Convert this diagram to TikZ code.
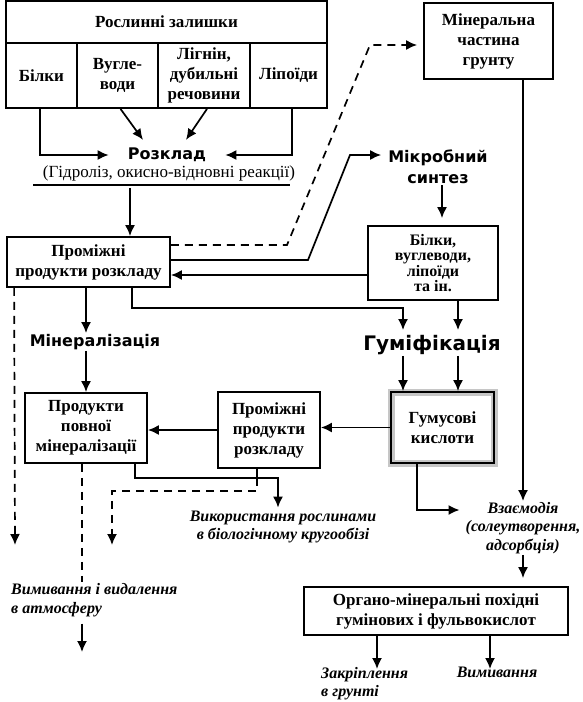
\documentclass[tikz,border=0pt]{standalone}
\usepackage{fontspec}
\setmainfont{Liberation Serif}
\newfontfamily\headfont{DejaVu Sans}
\usetikzlibrary{arrows.meta}
\tikzset{
	box/.style 2 args={draw,line width=1.8pt,minimum width=#1,minimum height=#2,align=center,inner sep=1pt,font=\fontsize{17}{20}\selectfont\bfseries},
	hbox/.style 2 args={box={#1}{#2},preaction={draw=gray!45,line width=7pt}},
	head/.style={align=center,inner sep=1pt,font=\headfont\bfseries\fontsize{16}{21}\selectfont},
	note/.style={align=center,inner sep=1pt,font=\bfseries\itshape\fontsize{16}{18.5}\selectfont},
	arr/.style={line width=1.7pt,-{Latex[length=11pt,width=10pt]}},
	ln/.style={line width=1.7pt},
	darr/.style={arr,dash pattern=on 8pt off 6pt}
}
\begin{document}
\begin{tikzpicture}[x=1pt,y=-1pt]
	\useasboundingbox (0,0) rectangle (583,702);
	% plant residues
	\node [box={321pt}{42pt}] (rest) at (166.5, 22) {Рослинні залишки};
	\node [box={71pt}{65pt}] (bilky) at (41.5, 75.5) {Білки};
	\node [box={81pt}{65pt}] (vugle) at (117.5, 75.5) {Вугле-\\води};
	\node [box={92pt}{65pt}] (lignin) at (204, 75.5) {Лігнін,\\дубильні\\речовини};
	\node [box={77pt}{65pt}] (lipo) at (288.5, 75.5) {Ліпоїди};
	\node [box={129pt}{76pt}] (mineral) at (488.5, 41) {Мінеральна\\частина\\грунту};

	\node [head] (rozklad) at (167, 155) {Розклад};
	\node [inner sep=1pt,font=\fontsize{17}{20}\selectfont] (hidro) at (169, 173) {(Гідроліз, окисно-відновні реакції)};
	\draw [ln] (33, 185) -- (290, 185);

	\node [box={163pt}{50pt}] (prom1) at (88.5, 262) {Проміжні\\продукти розкладу};
	\node [head] (mikro) at (438, 167) {Мікробний\\синтез};
	\node [box={130pt}{74pt},font=\fontsize{16}{15.5}\selectfont\bfseries] (bilky2) at (433, 263) {Білки,\\вуглеводи,\\ліпоїди\\та ін.};

	\node [head] (miner) at (95, 342) {Мінералізація};
	\node [head,font=\headfont\bfseries\fontsize{20}{24}\selectfont] (humif) at (432, 345) {Гуміфікація};

	\node [box={122pt}{70pt}] (povna) at (86, 428) {Продукти\\повної\\мінералізації};
	\node [box={102pt}{76pt}] (prom2) at (269, 430) {Проміжні\\продукти\\розкладу};
	\node [hbox={103pt}{71pt}] (humus) at (442.5, 427.5) {Гумусові\\кислоти};

	\node [note] (vykor) at (283, 527) {Використання рослинами\\в біологічному кругообізі};
	\node [note,align=left,anchor=west] (vymyv1) at (10, 600) {Вимивання і видалення\\в атмосферу};
	\node [note] (vzaem) at (523, 528) {Взаємодія\\(солеутворення,\\адсорбція)};
	\node [box={264pt}{48pt}] (organo) at (436, 611) {Органо-мінеральні похідні\\гумінових і фульвокислот};
	\node [note,align=left,anchor=north west] (zakrip) at (320, 666) {Закріплення\\в грунті};
	\node [note,anchor=north] (vymyv2) at (497, 666) {Вимивання};

	\coordinate (leak1) at (15, 545);
	\coordinate (leak2) at (112, 545);
	\coordinate (leak3) at (82, 652);

	% decomposition
	\draw [arr] ([xshift=-1.5pt]bilky.south) |- ([xshift=-18pt]rozklad.west);
	\draw [arr] ([xshift=3pt]vugle.south) -- ([xshift=-24pt,yshift=7pt]rozklad.north);
	\draw [arr] ([xshift=3pt]lignin.south) -- ([xshift=19pt,yshift=7pt]rozklad.north);
	\draw [arr] ([xshift=3.5pt]lipo.south) |- ([xshift=18pt]rozklad.east);
	\draw [arr] ([xshift=41.5pt]prom1.north |- hidro.south) ++(0,6) -- ([xshift=41.5pt]prom1.north);

	% to mineral part and microbial synthesis
	\draw [darr] ([yshift=17pt]prom1.east) -- (287, 245) -- (370, 45) -- ([yshift=-4pt,xshift=-6pt]mineral.west);
	\draw [arr] ([yshift=2pt]prom1.east) -- (308, 260) -- (350, 155) -- ([yshift=12pt,xshift=-6pt]mikro.west);
	\draw [arr] ([xshift=4pt]mikro.south) -- ([xshift=9pt,yshift=7pt]bilky2.north);
	\draw [arr] ([yshift=-12pt]bilky2.west) -- ([yshift=-13pt]prom1.east);

	% humification
	\draw [arr] ([xshift=43.5pt]prom1.south) -- ++(0, 20) -| ([xshift=-29pt,yshift=4pt]humif.north);
	\draw [arr] ([xshift=25pt]bilky2.south) -- ([xshift=26pt,yshift=4pt]humif.north);
	\draw [arr] ([xshift=-39.5pt]humus.north |- humif.south) -- ([xshift=-39.5pt]humus.north);
	\draw [arr] ([xshift=15.5pt]humus.north |- humif.south) -- ([xshift=15.5pt]humus.north);
	\draw [arr] (humus.west) -- (humus.west -| prom2.east);
	\draw [arr] (prom2.west) -- (prom2.west -| povna.east);

	% mineralization
	\draw [arr] (prom1.south -| povna.north) -- (miner.north -| povna.north);
	\draw [arr] (miner.south -| povna.north) -- (povna.north);
	\draw [darr] ([xshift=8pt]prom1.south west) -- (leak1);
	\draw [arr] ([xshift=49pt]povna.south) -- ++(0, 14) -| ([xshift=-5pt,yshift=2pt]vykor.north);
	\draw [ln] ([xshift=-12pt]prom2.south) -- ++(0, 9);
	\draw [darr] ([xshift=-12pt,yshift=-9pt]prom2.south) -- ++(0, 13) -| (leak2);
	\draw [ln,dash pattern=on 8pt off 6pt] ([xshift=-4pt]povna.south) -- ([xshift=-4pt]povna.south |- vymyv1.north);
	\draw [arr] (leak3 |- vymyv1.south) ++(0, 6) -- (leak3);

	% interaction
	\draw [arr] ([xshift=-25.5pt]humus.south) |- ([yshift=18pt,xshift=-5pt]vzaem.west);
	\draw [arr] (vzaem.north |- mineral.south) -- (vzaem.north);
	\draw [arr,shorten >=8pt] (vzaem.south) -- (vzaem.south |- organo.north);
	\draw [arr] ([xshift=-59pt]organo.south) -- ([xshift=-59pt,yshift=-3pt]organo.south |- zakrip.north);
	\draw [arr] ([xshift=-7pt]vymyv2.north |- organo.south) -- ([xshift=-7pt,yshift=-3pt]vymyv2.north);
\end{tikzpicture}
\end{document}
